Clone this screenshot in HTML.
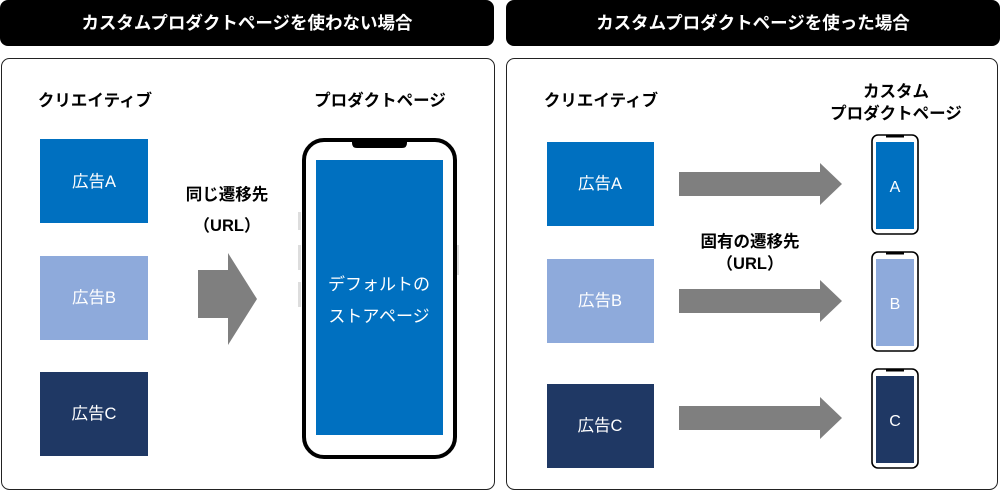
<!DOCTYPE html>
<html><head><meta charset="utf-8"><style>
body{margin:0;width:1000px;height:492px;background:#fff;overflow:hidden}
svg text{font-family:"Liberation Sans","Noto Sans CJK JP",sans-serif}
</style></head><body>
<svg width="1000" height="492" viewBox="0 0 1000 492" xmlns="http://www.w3.org/2000/svg">
<rect x="0" y="0" width="494" height="46" rx="8" fill="#000"/>
<rect x="506" y="0" width="494" height="46" rx="8" fill="#000"/>
<text x="247" y="29" fill="#fff" font-size="17.5" font-weight="bold" text-anchor="middle">カスタムプロダクトページを使わない場合</text>
<text x="753" y="29" fill="#fff" font-size="17.5" font-weight="bold" text-anchor="middle">カスタムプロダクトページを使った場合</text>
<rect x="1.5" y="58.5" width="493" height="431" rx="8" fill="none" stroke="#222" stroke-width="1"/>
<rect x="506.5" y="58.5" width="491" height="431" rx="8" fill="none" stroke="#222" stroke-width="1"/>
<g font-size="16.5" font-weight="bold" fill="#000" text-anchor="middle">
<text x="95" y="106">クリエイティブ</text>
<text x="380" y="106">プロダクトページ</text>
<text x="601" y="106">クリエイティブ</text>
<text x="896" y="97">カスタム</text>
<text x="896" y="119">プロダクトページ</text>
<text x="227" y="200">同じ遷移先</text>
<text x="227" y="231">（URL）</text>
<text x="750" y="247">固有の遷移先</text>
<text x="750" y="269">（URL）</text>
</g>
<g font-size="16.5" fill="#fff" text-anchor="middle">
<rect x="40" y="139" width="108" height="84" fill="#0070c0"/><text x="94" y="187">広告A</text>
<rect x="40" y="256" width="108" height="84" fill="#8eaadb"/><text x="94" y="303">広告B</text>
<rect x="40" y="372" width="108" height="84" fill="#1f3864"/><text x="94" y="419">広告C</text>
<rect x="547" y="142" width="107" height="84" fill="#0070c0"/><text x="600" y="189">広告A</text>
<rect x="547" y="259" width="107" height="84" fill="#8eaadb"/><text x="600" y="306">広告B</text>
<rect x="547" y="384" width="107" height="84" fill="#1f3864"/><text x="600" y="431">広告C</text>
</g>
<polygon points="198,270 228,270 228,253 257,299 228,345 228,318 198,318" fill="#7f7f7f"/>
<g fill="#7f7f7f">
<polygon points="679,172 820,172 820,163 842,184 820,205 820,196 679,196"/>
<polygon points="679,289 820,289 820,280 842,301 820,322 820,313 679,313"/>
<polygon points="679,406 820,406 820,397 842,418 820,439 820,430 679,430"/>
</g>
<g fill="#ddd"><rect x="298" y="212" width="3" height="18"/><rect x="298" y="245" width="3" height="25"/><rect x="298" y="282" width="3" height="25"/><rect x="456" y="245" width="3" height="30"/></g>
<rect x="304" y="140" width="151" height="317" rx="20" fill="#fff" stroke="#000" stroke-width="4"/>
<path d="M352,140 h55 v3 q0,5 -5,5 h-45 q-5,0 -5,-5z" fill="#000"/>
<rect x="316" y="160" width="127" height="275" fill="#0070c0"/>
<text x="379" y="290" font-size="17" fill="#fff" text-anchor="middle">デフォルトの</text>
<text x="379" y="322" font-size="17" fill="#fff" text-anchor="middle">ストアページ</text>
<g>
<rect x="872" y="135" width="46" height="99" rx="6" fill="#fff" stroke="#000" stroke-width="1.6"/>
<rect x="886" y="135" width="18" height="2.5" fill="#000"/>
<rect x="876" y="142" width="38" height="87" fill="#0070c0"/>
<text x="895" y="192" font-size="16" fill="#fff" text-anchor="middle">A</text>
<rect x="872" y="252" width="46" height="99" rx="6" fill="#fff" stroke="#000" stroke-width="1.6"/>
<rect x="886" y="252" width="18" height="2.5" fill="#000"/>
<rect x="876" y="259" width="38" height="87" fill="#8eaadb"/>
<text x="895" y="309" font-size="16" fill="#fff" text-anchor="middle">B</text>
<rect x="872" y="369" width="46" height="99" rx="6" fill="#fff" stroke="#000" stroke-width="1.6"/>
<rect x="886" y="369" width="18" height="2.5" fill="#000"/>
<rect x="876" y="376" width="38" height="87" fill="#1f3864"/>
<text x="895" y="426" font-size="16" fill="#fff" text-anchor="middle">C</text>
</g>
</svg>
</body></html>
